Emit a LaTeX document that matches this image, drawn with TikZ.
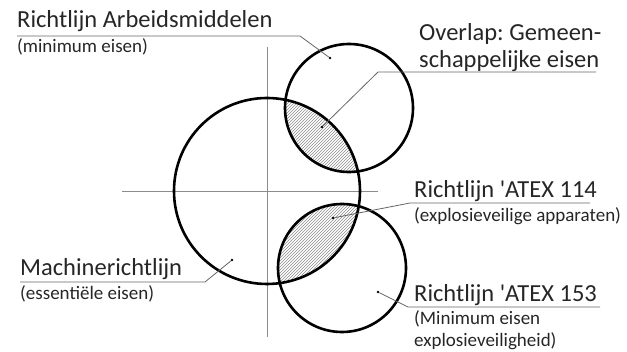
\documentclass[tikz,border=0pt]{standalone}
\usepackage{fontspec}
\setmainfont{Carlito}
\usepackage{tikz}
\usetikzlibrary{patterns}
\frenchspacing

\begin{document}
\begin{tikzpicture}[x=1pt,y=-1pt,
  ring/.style={draw=black,line width=2.6pt},
  axis/.style={draw=black!45,line width=0.8pt},
  lead/.style={draw=black!60,line width=0.8pt},
  hatch/.style={pattern=north east lines,pattern color=black!45},
  big/.style={anchor=base west,inner sep=0pt,font=\fontsize{24.5}{28}\selectfont,text=black!85},
  small/.style={anchor=base west,inner sep=0pt,font=\fontsize{19}{22}\selectfont,text=black!85},
  dot/.style={fill=black,circle,inner sep=0pt,minimum size=2.6pt}
]
\useasboundingbox (0,0) rectangle (627,352);

% circle centres
\coordinate (mach) at (267,191);
\coordinate (arb)  at (349,108);
\coordinate (atex) at (342,268);

% hatched overlaps
\begin{scope}
  \clip (mach) circle[radius=93pt];
  \fill[hatch] (arb) circle[radius=64pt];
  \fill[hatch] (atex) circle[radius=64pt];
\end{scope}

% axes
\draw[axis] (267,47) -- (267,337);
\draw[axis] (122,191) -- (378,191);

\draw[ring] (mach) circle[radius=93pt];
\draw[ring] (arb)  circle[radius=64pt];
\draw[ring] (atex) circle[radius=64pt];

% labels
\node[big]   (tArb)  at (17,28)  {Richtlijn Arbeidsmiddelen};
\node[small] (sArb)  at (17,53)  {(minimum eisen)};
\node[big]   (tOv1)  at (419,41) {Overlap: Gemeen-};
\node[big]   (tOv2)  at (419,68) {schappelijke eisen};
\node[big]   (t114)  at (414,198) {Richtlijn \textquotesingle ATEX 114};
\node[small] (s114)  at (414,222) {(explosieveilige apparaten)};
\node[big]   (t153)  at (414,302) {Richtlijn \textquotesingle ATEX 153};
\node[small] (s153a) at (414,325) {(Minimum eisen};
\node[small] (s153b) at (414,347) {explosieveiligheid)};
\node[big]   (tMach) at (20,276) {Machinerichtlijn};
\node[small] (sMach) at (20,300) {(essentiële eisen)};

% leader points
\node[dot] (dArb)  at (330,58)  {};
\node[dot] (dOv)   at (322,127) {};
\node[dot] (d114)  at (333,218) {};
\node[dot] (d153)  at (378,292) {};
\node[dot] (dMach) at (232,260) {};

\coordinate (kArb)  at (300,36);
\coordinate (kOv)   at (378,72);
\coordinate (k114)  at (410,203);
\coordinate (k153)  at (408,307);
\coordinate (kMach) at (205,282);

\draw[lead] (17,36) -- (kArb) -- (dArb);
\draw[lead] (596,72) -- (kOv) -- (dOv);
\draw[lead] (590,203) -- (k114) -- (d114);
\draw[lead] (600,307) -- (k153) -- (d153);
\draw[lead] (20,282) -- (kMach) -- (dMach);
\end{tikzpicture}
\end{document}
